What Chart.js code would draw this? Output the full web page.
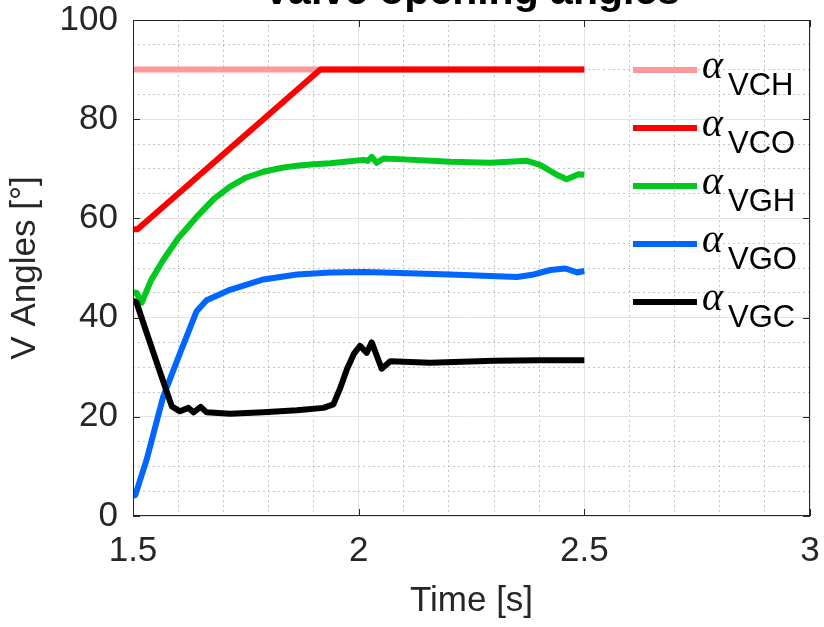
<!DOCTYPE html>
<html>
<head>
<meta charset="utf-8">
<script src="https://cdn.jsdelivr.net/npm/chart.js"></script>
<style>
  body { margin: 0; background: #fff; }
  #wrap { width: 824px; height: 627px; }
</style>
</head>
<body>
<div id="wrap"><canvas id="valveChart" width="824" height="627"></canvas></div>
<script>
// series data (time in s, angle in degrees)
const vchTime = [1.5, 2.5];
const vchVals = [90, 90];

const vcoTime = [1.5, 1.51, 1.915, 2.5];
const vcoVals = [57.8, 57.8, 90, 90];

const vghTime = [1.5, 1.508, 1.519, 1.54, 1.567, 1.6, 1.641, 1.68, 1.715, 1.75, 1.789, 1.83, 1.863, 1.9, 1.937, 1.97, 2.011, 2.02, 2.029, 2.04, 2.055, 2.1, 2.203, 2.292, 2.373, 2.402, 2.439, 2.461, 2.487, 2.5];
const vghVals = [45, 45, 43, 47.5, 51.6, 56, 60.3, 64, 66.4, 68.2, 69.4, 70.2, 70.6, 70.9, 71.1, 71.4, 71.8, 71.6, 72.4, 71.2, 72.1, 71.9, 71.4, 71.2, 71.6, 70.8, 68.8, 67.9, 68.9, 68.8];

const vgoTime = [1.5, 1.505, 1.53, 1.567, 1.604, 1.641, 1.663, 1.715, 1.789, 1.863, 1.937, 2.011, 2.055, 2.203, 2.351, 2.388, 2.425, 2.458, 2.484, 2.5];
const vgoVals = [4.2, 4.2, 11.3, 24.1, 32.8, 41.3, 43.5, 45.6, 47.7, 48.7, 49.1, 49.2, 49.1, 48.7, 48.2, 48.7, 49.6, 49.9, 49.1, 49.4];

const vgcTime = [1.5, 1.508, 1.53, 1.56, 1.586, 1.604, 1.623, 1.634, 1.65, 1.663, 1.715, 1.789, 1.863, 1.922, 1.944, 1.96, 1.974, 1.99, 2.003, 2.018, 2.029, 2.051, 2.07, 2.158, 2.3, 2.4, 2.5];
const vgcVals = [43.4, 43, 37, 29, 22.1, 21.1, 21.8, 20.9, 22, 20.9, 20.6, 20.9, 21.3, 21.8, 22.5, 26, 29.6, 32.8, 34.3, 32.9, 35, 29.7, 31.2, 30.9, 31.3, 31.4, 31.4];

const seriesNames = ['VCH', 'VCO', 'VGH', 'VGO', 'VGC'];
const seriesColors = ['#ff9999', '#ff0000', '#00c81e', '#0066ff', '#000000'];

const xTicksMajor = 0.5;
const xTicksMinor = 0.1;
const yTicksMajor = 20;
const yTicksMinor = 5;

function zip(xs, ys) {
    return xs.map((x, i) => ({ x: x, y: ys[i] }));
}

const axisFont = { family: '"Liberation Sans", Arial, sans-serif', size: 35 };
const textColor = '#262626';

function isMultiple(v, step) {
    const r = v / step;
    return Math.abs(r - Math.round(r)) < 1e-6;
}

function noPad(s) {
    s.paddingTop = 0;
    s.paddingBottom = 0;
    s.paddingLeft = 0;
    s.paddingRight = 0;
}

// title, legend with subscripts and the MATLAB-like box with inward ticks
const decorPlugin = {
    id: 'decor',
    afterDraw(chart) {
        const ctx = chart.ctx;
        const area = chart.chartArea;
        const xs = chart.scales.x;
        const ys = chart.scales.y;
        ctx.save();

        // box
        ctx.strokeStyle = textColor;
        ctx.lineWidth = 1;
        ctx.strokeRect(area.left + 0.5, area.top + 0.5, area.right - area.left - 1, area.bottom - area.top - 1);

        // inward tick marks on all four sides
        const tl = 7;
        ctx.beginPath();
        xs.ticks.forEach(t => {
            const px = Math.round(xs.getPixelForValue(t.value)) + 0.5;
            ctx.moveTo(px, area.bottom); ctx.lineTo(px, area.bottom - tl);
            ctx.moveTo(px, area.top); ctx.lineTo(px, area.top + tl);
        });
        ys.ticks.forEach(t => {
            const py = Math.round(ys.getPixelForValue(t.value)) + 0.5;
            ctx.moveTo(area.left, py); ctx.lineTo(area.left + tl, py);
            ctx.moveTo(area.right, py); ctx.lineTo(area.right - tl, py);
        });
        ctx.stroke();

        // title, mostly above the canvas edge like the reference
        ctx.fillStyle = '#000';
        ctx.font = 'bold 41px "Liberation Sans", Arial, sans-serif';
        ctx.textAlign = 'center';
        ctx.textBaseline = 'alphabetic';
        ctx.fillText('Valve opening angles', (area.left + area.right) / 2, 4);

        // legend
        ctx.textAlign = 'left';
        seriesNames.forEach((name, i) => {
            const y = 70 + i * 58;
            ctx.strokeStyle = seriesColors[i];
            ctx.lineWidth = 6;
            ctx.beginPath();
            ctx.moveTo(633, y);
            ctx.lineTo(697, y);
            ctx.stroke();
            ctx.fillStyle = '#000';
            ctx.font = 'italic 40px "Liberation Serif", "DejaVu Serif", serif';
            ctx.fillText('\u03b1', 702, y + 8);
            ctx.font = '31px "Liberation Sans", Arial, sans-serif';
            ctx.fillText(name, 728, y + 25);
        });
        ctx.restore();
    }
};

const ctx = document.getElementById('valveChart').getContext('2d');
const valveChart = new Chart(ctx, {
    type: 'line',
    data: {
        datasets: [
            { label: 'VCH', data: zip(vchTime, vchVals), order: 5 },
            { label: 'VCO', data: zip(vcoTime, vcoVals), order: 4 },
            { label: 'VGH', data: zip(vghTime, vghVals), order: 3 },
            { label: 'VGO', data: zip(vgoTime, vgoVals), order: 2 },
            { label: 'VGC', data: zip(vgcTime, vgcVals), order: 1 }
        ].map((d, i) => Object.assign(d, {
            borderColor: seriesColors[i],
            backgroundColor: seriesColors[i],
            borderWidth: 6,
            pointRadius: 0,
            tension: 0,
            fill: false,
            borderJoinStyle: 'round',
            borderCapStyle: 'butt'
        }))
    },
    options: {
        responsive: false,
        animation: false,
        layout: { padding: { top: 20, right: 14, left: 0, bottom: 0 } },
        plugins: {
            legend: { display: false },
            tooltip: { enabled: false },
            title: { display: false }
        },
        scales: {
            x: {
                type: 'linear', position: 'bottom', min: 1.5, max: 3,
                ticks: { stepSize: xTicksMajor, font: axisFont, color: textColor, padding: 14, maxRotation: 0,
                    callback: v => String(v) },
                grid: { color: '#e3e3e3', drawTicks: false },
                border: { display: false },
                title: { display: true, text: 'Time [s]', font: axisFont, color: textColor, padding: { bottom: 5 } },
                afterFit: s => { s.height = 111; noPad(s); }
            },
            xMinor: {
                type: 'linear', position: 'bottom', min: 1.5, max: 3,
                ticks: { display: false, stepSize: xTicksMinor },
                grid: {
                    drawTicks: false,
                    color: c => (c.tick && isMultiple(c.tick.value, xTicksMajor)) ? 'rgba(0,0,0,0)' : '#c4c4c4'
                },
                border: { display: false, dash: [2, 3] },
                afterFit: s => { s.height = 0; noPad(s); }
            },
            y: {
                type: 'linear', position: 'left', min: 0, max: 100,
                ticks: { stepSize: yTicksMajor, font: axisFont, color: textColor, padding: 15 },
                grid: { color: '#e3e3e3', drawTicks: false },
                border: { display: false },
                title: { display: true, text: 'V Angles [°]', font: axisFont, color: textColor, padding: { top: 4 } },
                afterFit: s => { s.width = 133; noPad(s); }
            },
            yMinor: {
                type: 'linear', position: 'left', min: 0, max: 100,
                ticks: { display: false, stepSize: yTicksMinor },
                grid: {
                    drawTicks: false,
                    color: c => (c.tick && isMultiple(c.tick.value, yTicksMajor)) ? 'rgba(0,0,0,0)' : '#c4c4c4'
                },
                border: { display: false, dash: [2, 3] },
                afterFit: s => { s.width = 0; noPad(s); }
            }
        }
    },
    plugins: [decorPlugin]
});
</script>
</body>
</html>
